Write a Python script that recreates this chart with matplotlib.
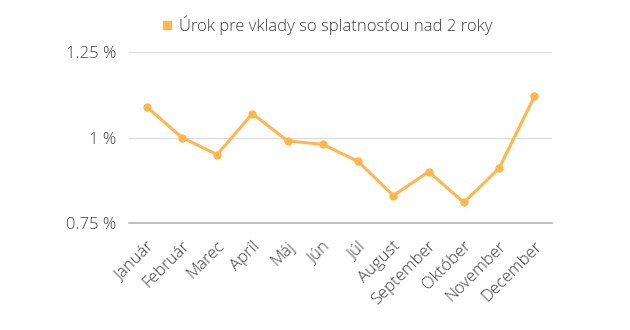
import matplotlib
matplotlib.use("Agg")
import matplotlib.pyplot as plt
from matplotlib.transforms import ScaledTranslation
from matplotlib.ticker import FixedLocator, FixedFormatter

plt.rcParams['font.family'] = ['Open Sans', 'DejaVu Sans']
plt.rcParams['font.weight'] = 'light'

months = ["Január", "Február", "Marec", "Apríl", "Máj", "Jún", "Júl",
          "August", "September", "Október", "November", "December"]
rates = [1.09, 1.00, 0.95, 1.07, 0.99, 0.98, 0.93, 0.83, 0.90, 0.81, 0.91, 1.12]
y_ticks = [0.75, 1.00, 1.25]
y_tick_labels = ["0.75 %", "1 %", "1.25 %"]
series_name = "Úrok pre vklady so splatnosťou nad 2 roky"

color = "#FFB74D"
text_color = "#404040"

W, H = 630, 330
fig = plt.figure(figsize=(W / 100, H / 100), dpi=100)
left, right, top, bottom = 129, 552, 52, 223
ax = fig.add_axes([left / W, 1 - bottom / H, (right - left) / W, (bottom - top) / H])

x = list(range(len(months)))
ax.plot(x, rates, color=color, linewidth=2.2, marker="o", markersize=5,
        solid_joinstyle="round", zorder=3)

ax.set_xlim(-0.5, len(months) - 0.5)
ax.set_ylim(0.75, 1.25)
ax.yaxis.set_major_locator(FixedLocator(y_ticks))
ax.yaxis.set_major_formatter(FixedFormatter(y_tick_labels))
ax.grid(axis="y", color="#dddddd", linewidth=1)
ax.set_axisbelow(True)
for s in ["top", "right", "left"]:
    ax.spines[s].set_visible(False)
ax.spines["bottom"].set_color("#b5b5b5")
ax.spines["bottom"].set_linewidth(1.2)

ax.set_xticks(x)
ax.set_xticklabels(months, rotation=45, ha="right", va="center",
                   rotation_mode="anchor")
ax.tick_params(axis="both", length=0, labelsize=12, labelcolor=text_color)
ax.tick_params(axis="x", pad=0)
ax.tick_params(axis="y", pad=9)

shift = ScaledTranslation(5 / 100, -21 / 100, fig.dpi_scale_trans)
for lbl in ax.get_xticklabels():
    lbl.set_transform(lbl.get_transform() + shift)

handle = plt.Line2D([], [], color=color, marker="s", linestyle="none", markersize=6)
fig.legend([handle], [series_name], loc="center", bbox_to_anchor=(327 / W, 1 - 25 / H),
           frameon=False, fontsize=12, handletextpad=0.37, handlelength=0.7,
           labelcolor=text_color, borderpad=0, borderaxespad=0)

fig.savefig("out.png", dpi=100)
